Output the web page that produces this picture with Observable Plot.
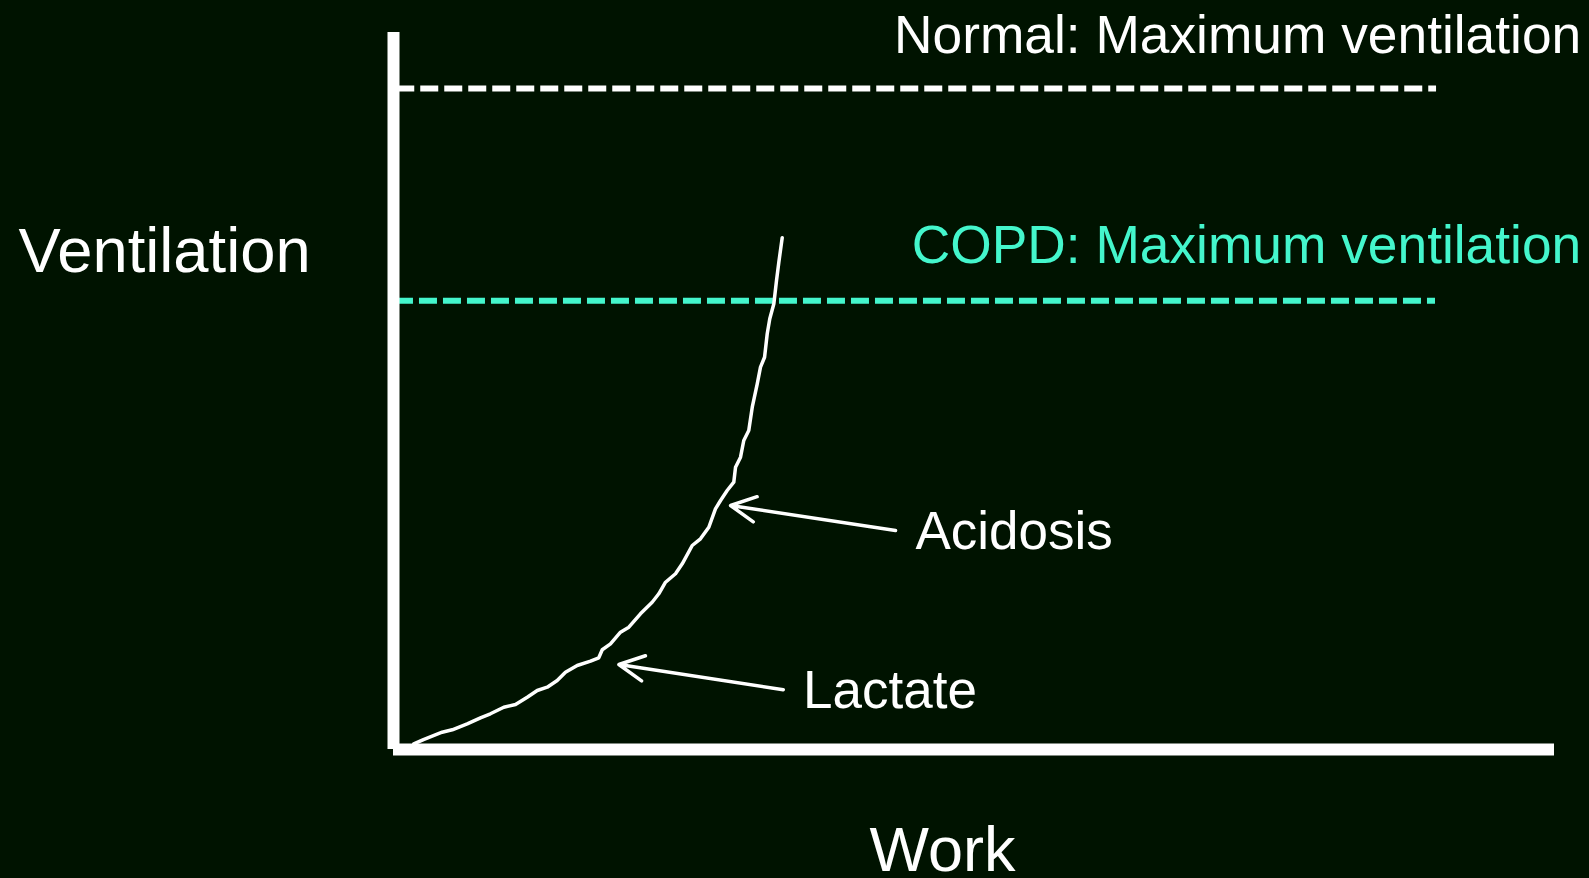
<!DOCTYPE html>
<html>
<head>
<meta charset="utf-8">
<script src="https://cdn.jsdelivr.net/npm/d3@7"></script>
<script src="https://cdn.jsdelivr.net/npm/@observablehq/plot@0.6"></script>
<style>
  html, body { margin: 0; padding: 0; background: #001300; }
  #chart svg { display: block; }
</style>
</head>
<body>
<div id="chart"></div>
<script>
// Curve: ventilation vs work (arbitrary units, 0–100)
const work = [1.75, 2.58, 4.19, 5.06, 6.35, 7.49, 8.35, 9.50, 10.51, 11.52, 12.38, 13.24, 14.10, 14.81, 15.82, 16.97, 17.68, 17.98, 18.69, 19.55, 20.27, 21.27, 22.28, 22.85, 23.43, 24.29, 24.87, 25.73, 26.44, 27.16, 27.73, 28.17, 28.74, 29.31, 29.46, 29.89, 30.17, 30.60, 30.90, 31.33, 31.61, 31.96, 32.19, 32.41, 32.76, 32.99, 33.19, 33.48];
const ventilation = [0.79, 1.39, 2.41, 2.75, 3.58, 4.42, 4.98, 5.90, 6.28, 7.29, 8.23, 8.69, 9.62, 10.78, 11.72, 12.32, 12.79, 13.91, 14.74, 16.36, 17.06, 18.93, 20.54, 21.72, 23.33, 24.51, 25.90, 28.45, 29.39, 31.00, 33.57, 34.73, 36.12, 37.28, 39.37, 40.77, 43.10, 44.49, 47.74, 51.00, 53.32, 54.71, 57.98, 60.07, 62.16, 65.41, 67.96, 71.37];

// Maximum ventilation limits
const limitNames = ["Normal: Maximum ventilation", "COPD: Maximum ventilation"];
const limitValues = [92.2, 62.6];

// Annotations
const annotationNames = ["Acidosis", "Lactate"];

// Axis titles
const yTitle = "Ventilation";
const xTitle = "Work";

const curve = work.map((w, i) => ({work: w, ventilation: ventilation[i]}));
const limits = limitNames.map((n, i) => ({name: n, value: limitValues[i]}));

const font = "'Liberation Sans', Arial, Helvetica, sans-serif";
const bg = "#001300";
const aqua = "#44f6cc";

const chart = Plot.plot({
  width: 1589,
  height: 878,
  marginLeft: 393,
  marginRight: 35,
  marginTop: 32,
  marginBottom: 129,
  x: {domain: [0, 100], axis: null},
  y: {domain: [0, 100], axis: null},
  style: {background: bg, color: "white", fontFamily: font, overflow: "visible"},
  marks: [
    // dashed maximum-ventilation lines
    Plot.ruleY([limits[0]], {y: "value", x1: 0.28, x2: 89.84, stroke: "white", strokeWidth: 6, strokeDasharray: "18,6"}),
    Plot.ruleY([limits[1]], {y: "value", x1: 0.17, x2: 89.75, stroke: aqua, strokeWidth: 6, strokeDasharray: "18,6"}),
    // limit labels
    Plot.text([limits[0]], {x: () => 102.3, y: () => 97.2, text: "name", fill: "white", fontSize: 53.3, textAnchor: "end", lineAnchor: "bottom"}),
    Plot.text([limits[1]], {x: () => 102.3, y: () => 67.8, text: "name", fill: aqua, fontSize: 53.3, textAnchor: "end", lineAnchor: "bottom"}),
    // axes
    Plot.ruleX([0], {y1: 0, y2: 100, stroke: "white", strokeWidth: 12}),
    Plot.ruleY([0], {x1: 0, x2: 100, stroke: "white", strokeWidth: 12}),
    // curve
    Plot.line(curve, {x: "work", y: "ventilation", stroke: "white", strokeWidth: 3.5, strokeLinejoin: "round", strokeLinecap: "round"}),
    // arrows
    Plot.arrow([annotationNames[0]], {x1: 43.24, y1: 30.54, x2: 29.03, y2: 34.03, stroke: "white", strokeWidth: 3.5, headLength: 12, headAngle: 54}),
    Plot.arrow([annotationNames[1]], {x1: 33.57, y1: 8.33, x2: 19.41, y2: 11.85, stroke: "white", strokeWidth: 3.5, headLength: 12, headAngle: 54}),
    // annotation labels
    Plot.text([annotationNames[0]], {x: 44.96, y: 27.96, text: d => d, fill: "white", fontSize: 53, textAnchor: "start", lineAnchor: "bottom"}),
    Plot.text([annotationNames[1]], {x: 35.28, y: 5.72, text: d => d, fill: "white", fontSize: 53, textAnchor: "start", lineAnchor: "bottom"}),
    // axis titles
    Plot.text([yTitle], {x: -32.3, y: 66.53, text: d => d, fill: "white", fontSize: 63.3, textAnchor: "start", lineAnchor: "bottom"}),
    Plot.text([xTitle], {x: 47.29, y: -17.0, text: d => d, fill: "white", fontSize: 63, textAnchor: "middle", lineAnchor: "bottom"})
  ]
});
document.getElementById("chart").appendChild(chart);
</script>
</body>
</html>
